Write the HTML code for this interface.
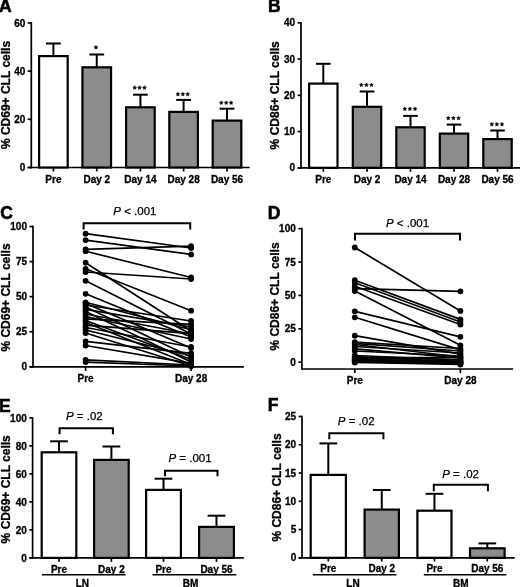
<!DOCTYPE html>
<html><head><meta charset="utf-8"><style>
html,body{margin:0;padding:0;background:#fff;}
body{width:520px;height:587px;overflow:hidden;}
svg{display:block;font-family:"Liberation Sans", sans-serif;filter:grayscale(1) blur(0.3px);}
</style></head><body>
<svg width="520" height="587" viewBox="0 0 520 587" font-family='"Liberation Sans", sans-serif'>
<rect width="520" height="587" fill="#fff"/>
<text x="-0.9" y="12.2" font-size="17.5" text-anchor="start" font-weight="bold" font-style="normal" stroke="#000" stroke-width="0.6">A</text>
<line x1="31.3" y1="22.049999999999997" x2="31.3" y2="168.35" stroke="#000" stroke-width="1.7"/>
<line x1="27.7" y1="167.5" x2="31.3" y2="167.5" stroke="#000" stroke-width="1.7"/>
<text x="25.3" y="171.1" font-size="10" text-anchor="end" font-weight="bold" font-style="normal" stroke="#000" stroke-width="0.3">0</text>
<line x1="27.7" y1="119.3" x2="31.3" y2="119.3" stroke="#000" stroke-width="1.7"/>
<text x="25.3" y="122.89999999999999" font-size="10" text-anchor="end" font-weight="bold" font-style="normal" stroke="#000" stroke-width="0.3">20</text>
<line x1="27.7" y1="71.1" x2="31.3" y2="71.1" stroke="#000" stroke-width="1.7"/>
<text x="25.3" y="74.69999999999999" font-size="10" text-anchor="end" font-weight="bold" font-style="normal" stroke="#000" stroke-width="0.3">40</text>
<line x1="27.7" y1="22.900000000000006" x2="31.3" y2="22.900000000000006" stroke="#000" stroke-width="1.7"/>
<text x="25.3" y="26.500000000000007" font-size="10" text-anchor="end" font-weight="bold" font-style="normal" stroke="#000" stroke-width="0.3">60</text>
<line x1="27.7" y1="167.5" x2="249.6" y2="167.5" stroke="#000" stroke-width="1.7"/>
<text x="0" y="0" font-size="12" text-anchor="middle" font-weight="bold" stroke="#000" stroke-width="0.3" transform="translate(9.8,95.0) rotate(-90)">% CD69+ CLL cells</text>
<line x1="53.4" y1="56.0" x2="53.4" y2="43.5" stroke="#000" stroke-width="2.0"/>
<line x1="46.0" y1="43.5" x2="60.8" y2="43.5" stroke="#000" stroke-width="2.0"/>
<rect x="39.1" y="56.1" width="28.599999999999998" height="111.4" fill="#fff" stroke="#000" stroke-width="2.2"/>
<line x1="53.4" y1="167.5" x2="53.4" y2="171.5" stroke="#000" stroke-width="1.7"/>
<text x="53.4" y="182.7" font-size="10" text-anchor="middle" font-weight="bold" font-style="normal" stroke="#000" stroke-width="0.3">Pre</text>
<line x1="96.75" y1="67.2" x2="96.75" y2="54.5" stroke="#000" stroke-width="2.0"/>
<line x1="89.35" y1="54.5" x2="104.15" y2="54.5" stroke="#000" stroke-width="2.0"/>
<rect x="82.44999999999999" y="67.3" width="28.600000000000012" height="100.2" fill="#8c8c8c" stroke="#000" stroke-width="2.2"/>
<line x1="96.75" y1="167.5" x2="96.75" y2="171.5" stroke="#000" stroke-width="1.7"/>
<text x="96.75" y="182.7" font-size="10" text-anchor="middle" font-weight="bold" font-style="normal" stroke="#000" stroke-width="0.3">Day 2</text>
<polygon points="95.95,45.40 96.57,46.55 97.85,46.78 96.95,47.72 97.13,49.02 95.95,48.45 94.77,49.02 94.95,47.72 94.05,46.78 95.33,46.55" stroke="#000" stroke-width="0.5" stroke-linejoin="round"/>
<line x1="140.4" y1="107.2" x2="140.4" y2="94.7" stroke="#000" stroke-width="2.0"/>
<line x1="133.0" y1="94.7" x2="147.8" y2="94.7" stroke="#000" stroke-width="2.0"/>
<rect x="126.1" y="107.3" width="28.600000000000012" height="60.199999999999996" fill="#8c8c8c" stroke="#000" stroke-width="2.2"/>
<line x1="140.4" y1="167.5" x2="140.4" y2="171.5" stroke="#000" stroke-width="1.7"/>
<text x="140.4" y="182.7" font-size="10" text-anchor="middle" font-weight="bold" font-style="normal" stroke="#000" stroke-width="0.3">Day 14</text>
<polygon points="134.70,85.70 135.32,86.85 136.60,87.08 135.70,88.02 135.88,89.32 134.70,88.75 133.52,89.32 133.70,88.02 132.80,87.08 134.08,86.85" stroke="#000" stroke-width="0.5" stroke-linejoin="round"/>
<polygon points="139.60,85.70 140.22,86.85 141.50,87.08 140.60,88.02 140.78,89.32 139.60,88.75 138.42,89.32 138.60,88.02 137.70,87.08 138.98,86.85" stroke="#000" stroke-width="0.5" stroke-linejoin="round"/>
<polygon points="144.50,85.70 145.12,86.85 146.40,87.08 145.50,88.02 145.68,89.32 144.50,88.75 143.32,89.32 143.50,88.02 142.60,87.08 143.88,86.85" stroke="#000" stroke-width="0.5" stroke-linejoin="round"/>
<line x1="183.6" y1="111.8" x2="183.6" y2="99.9" stroke="#000" stroke-width="2.0"/>
<line x1="176.2" y1="99.9" x2="191.0" y2="99.9" stroke="#000" stroke-width="2.0"/>
<rect x="169.29999999999998" y="111.89999999999999" width="28.600000000000012" height="55.6" fill="#8c8c8c" stroke="#000" stroke-width="2.2"/>
<line x1="183.6" y1="167.5" x2="183.6" y2="171.5" stroke="#000" stroke-width="1.7"/>
<text x="183.6" y="182.7" font-size="10" text-anchor="middle" font-weight="bold" font-style="normal" stroke="#000" stroke-width="0.3">Day 28</text>
<polygon points="177.90,92.20 178.52,93.35 179.80,93.58 178.90,94.52 179.08,95.82 177.90,95.25 176.72,95.82 176.90,94.52 176.00,93.58 177.28,93.35" stroke="#000" stroke-width="0.5" stroke-linejoin="round"/>
<polygon points="182.80,92.20 183.42,93.35 184.70,93.58 183.80,94.52 183.98,95.82 182.80,95.25 181.62,95.82 181.80,94.52 180.90,93.58 182.18,93.35" stroke="#000" stroke-width="0.5" stroke-linejoin="round"/>
<polygon points="187.70,92.20 188.32,93.35 189.60,93.58 188.70,94.52 188.88,95.82 187.70,95.25 186.52,95.82 186.70,94.52 185.80,93.58 187.08,93.35" stroke="#000" stroke-width="0.5" stroke-linejoin="round"/>
<line x1="227.0" y1="120.5" x2="227.0" y2="108.7" stroke="#000" stroke-width="2.0"/>
<line x1="219.6" y1="108.7" x2="234.4" y2="108.7" stroke="#000" stroke-width="2.0"/>
<rect x="212.7" y="120.6" width="28.600000000000012" height="46.9" fill="#8c8c8c" stroke="#000" stroke-width="2.2"/>
<line x1="227.0" y1="167.5" x2="227.0" y2="171.5" stroke="#000" stroke-width="1.7"/>
<text x="227.0" y="182.7" font-size="10" text-anchor="middle" font-weight="bold" font-style="normal" stroke="#000" stroke-width="0.3">Day 56</text>
<polygon points="221.30,100.80 221.92,101.95 223.20,102.18 222.30,103.12 222.48,104.42 221.30,103.85 220.12,104.42 220.30,103.12 219.40,102.18 220.68,101.95" stroke="#000" stroke-width="0.5" stroke-linejoin="round"/>
<polygon points="226.20,100.80 226.82,101.95 228.10,102.18 227.20,103.12 227.38,104.42 226.20,103.85 225.02,104.42 225.20,103.12 224.30,102.18 225.58,101.95" stroke="#000" stroke-width="0.5" stroke-linejoin="round"/>
<polygon points="231.10,100.80 231.72,101.95 233.00,102.18 232.10,103.12 232.28,104.42 231.10,103.85 229.92,104.42 230.10,103.12 229.20,102.18 230.48,101.95" stroke="#000" stroke-width="0.5" stroke-linejoin="round"/>
<text x="268.0" y="12.4" font-size="17.5" text-anchor="start" font-weight="bold" font-style="normal" stroke="#000" stroke-width="0.6">B</text>
<line x1="301.0" y1="21.95" x2="301.0" y2="168.65" stroke="#000" stroke-width="1.7"/>
<line x1="297.6" y1="167.8" x2="301.0" y2="167.8" stroke="#000" stroke-width="1.7"/>
<text x="295.0" y="171.4" font-size="10" text-anchor="end" font-weight="bold" font-style="normal" stroke="#000" stroke-width="0.3">0</text>
<line x1="297.6" y1="131.55" x2="301.0" y2="131.55" stroke="#000" stroke-width="1.7"/>
<text x="295.0" y="135.15" font-size="10" text-anchor="end" font-weight="bold" font-style="normal" stroke="#000" stroke-width="0.3">10</text>
<line x1="297.6" y1="95.30000000000001" x2="301.0" y2="95.30000000000001" stroke="#000" stroke-width="1.7"/>
<text x="295.0" y="98.9" font-size="10" text-anchor="end" font-weight="bold" font-style="normal" stroke="#000" stroke-width="0.3">20</text>
<line x1="297.6" y1="59.05000000000001" x2="301.0" y2="59.05000000000001" stroke="#000" stroke-width="1.7"/>
<text x="295.0" y="62.65000000000001" font-size="10" text-anchor="end" font-weight="bold" font-style="normal" stroke="#000" stroke-width="0.3">30</text>
<line x1="297.6" y1="22.80000000000001" x2="301.0" y2="22.80000000000001" stroke="#000" stroke-width="1.7"/>
<text x="295.0" y="26.400000000000013" font-size="10" text-anchor="end" font-weight="bold" font-style="normal" stroke="#000" stroke-width="0.3">40</text>
<line x1="297.6" y1="167.8" x2="520.5" y2="167.8" stroke="#000" stroke-width="1.7"/>
<text x="0" y="0" font-size="12" text-anchor="middle" font-weight="bold" stroke="#000" stroke-width="0.3" transform="translate(278.8,95.3) rotate(-90)">% CD86+ CLL cells</text>
<line x1="323.3" y1="83.5" x2="323.3" y2="63.8" stroke="#000" stroke-width="2.0"/>
<line x1="316.0" y1="63.8" x2="330.6" y2="63.8" stroke="#000" stroke-width="2.0"/>
<rect x="309.1" y="83.6" width="28.400000000000023" height="84.20000000000002" fill="#fff" stroke="#000" stroke-width="2.2"/>
<line x1="323.3" y1="167.8" x2="323.3" y2="171.8" stroke="#000" stroke-width="1.7"/>
<text x="323.3" y="182.9" font-size="10" text-anchor="middle" font-weight="bold" font-style="normal" stroke="#000" stroke-width="0.3">Pre</text>
<line x1="367.0" y1="106.7" x2="367.0" y2="91.5" stroke="#000" stroke-width="2.0"/>
<line x1="359.7" y1="91.5" x2="374.3" y2="91.5" stroke="#000" stroke-width="2.0"/>
<rect x="352.8" y="106.8" width="28.400000000000023" height="61.00000000000001" fill="#8c8c8c" stroke="#000" stroke-width="2.2"/>
<line x1="367.0" y1="167.8" x2="367.0" y2="171.8" stroke="#000" stroke-width="1.7"/>
<text x="367.0" y="182.9" font-size="10" text-anchor="middle" font-weight="bold" font-style="normal" stroke="#000" stroke-width="0.3">Day 2</text>
<polygon points="361.30,83.00 361.92,84.15 363.20,84.38 362.30,85.32 362.48,86.62 361.30,86.05 360.12,86.62 360.30,85.32 359.40,84.38 360.68,84.15" stroke="#000" stroke-width="0.5" stroke-linejoin="round"/>
<polygon points="366.40,83.00 367.02,84.15 368.30,84.38 367.40,85.32 367.58,86.62 366.40,86.05 365.22,86.62 365.40,85.32 364.50,84.38 365.78,84.15" stroke="#000" stroke-width="0.5" stroke-linejoin="round"/>
<polygon points="371.50,83.00 372.12,84.15 373.40,84.38 372.50,85.32 372.68,86.62 371.50,86.05 370.32,86.62 370.50,85.32 369.60,84.38 370.88,84.15" stroke="#000" stroke-width="0.5" stroke-linejoin="round"/>
<line x1="410.5" y1="127.2" x2="410.5" y2="115.9" stroke="#000" stroke-width="2.0"/>
<line x1="403.2" y1="115.9" x2="417.8" y2="115.9" stroke="#000" stroke-width="2.0"/>
<rect x="396.3" y="127.3" width="28.400000000000023" height="40.50000000000001" fill="#8c8c8c" stroke="#000" stroke-width="2.2"/>
<line x1="410.5" y1="167.8" x2="410.5" y2="171.8" stroke="#000" stroke-width="1.7"/>
<text x="410.5" y="182.9" font-size="10" text-anchor="middle" font-weight="bold" font-style="normal" stroke="#000" stroke-width="0.3">Day 14</text>
<polygon points="404.80,106.90 405.42,108.05 406.70,108.28 405.80,109.22 405.98,110.52 404.80,109.95 403.62,110.52 403.80,109.22 402.90,108.28 404.18,108.05" stroke="#000" stroke-width="0.5" stroke-linejoin="round"/>
<polygon points="409.90,106.90 410.52,108.05 411.80,108.28 410.90,109.22 411.08,110.52 409.90,109.95 408.72,110.52 408.90,109.22 408.00,108.28 409.28,108.05" stroke="#000" stroke-width="0.5" stroke-linejoin="round"/>
<polygon points="415.00,106.90 415.62,108.05 416.90,108.28 416.00,109.22 416.18,110.52 415.00,109.95 413.82,110.52 414.00,109.22 413.10,108.28 414.38,108.05" stroke="#000" stroke-width="0.5" stroke-linejoin="round"/>
<line x1="454.0" y1="133.5" x2="454.0" y2="124.6" stroke="#000" stroke-width="2.0"/>
<line x1="446.7" y1="124.6" x2="461.3" y2="124.6" stroke="#000" stroke-width="2.0"/>
<rect x="439.8" y="133.6" width="28.400000000000023" height="34.20000000000001" fill="#8c8c8c" stroke="#000" stroke-width="2.2"/>
<line x1="454.0" y1="167.8" x2="454.0" y2="171.8" stroke="#000" stroke-width="1.7"/>
<text x="454.0" y="182.9" font-size="10" text-anchor="middle" font-weight="bold" font-style="normal" stroke="#000" stroke-width="0.3">Day 28</text>
<polygon points="448.30,116.20 448.92,117.35 450.20,117.58 449.30,118.52 449.48,119.82 448.30,119.25 447.12,119.82 447.30,118.52 446.40,117.58 447.68,117.35" stroke="#000" stroke-width="0.5" stroke-linejoin="round"/>
<polygon points="453.40,116.20 454.02,117.35 455.30,117.58 454.40,118.52 454.58,119.82 453.40,119.25 452.22,119.82 452.40,118.52 451.50,117.58 452.78,117.35" stroke="#000" stroke-width="0.5" stroke-linejoin="round"/>
<polygon points="458.50,116.20 459.12,117.35 460.40,117.58 459.50,118.52 459.68,119.82 458.50,119.25 457.32,119.82 457.50,118.52 456.60,117.58 457.88,117.35" stroke="#000" stroke-width="0.5" stroke-linejoin="round"/>
<line x1="497.5" y1="139.0" x2="497.5" y2="130.5" stroke="#000" stroke-width="2.0"/>
<line x1="490.2" y1="130.5" x2="504.8" y2="130.5" stroke="#000" stroke-width="2.0"/>
<rect x="483.3" y="139.1" width="28.399999999999967" height="28.70000000000001" fill="#8c8c8c" stroke="#000" stroke-width="2.2"/>
<line x1="497.5" y1="167.8" x2="497.5" y2="171.8" stroke="#000" stroke-width="1.7"/>
<text x="497.5" y="182.9" font-size="10" text-anchor="middle" font-weight="bold" font-style="normal" stroke="#000" stroke-width="0.3">Day 56</text>
<polygon points="491.80,122.30 492.42,123.45 493.70,123.68 492.80,124.62 492.98,125.92 491.80,125.35 490.62,125.92 490.80,124.62 489.90,123.68 491.18,123.45" stroke="#000" stroke-width="0.5" stroke-linejoin="round"/>
<polygon points="496.90,122.30 497.52,123.45 498.80,123.68 497.90,124.62 498.08,125.92 496.90,125.35 495.72,125.92 495.90,124.62 495.00,123.68 496.28,123.45" stroke="#000" stroke-width="0.5" stroke-linejoin="round"/>
<polygon points="502.00,122.30 502.62,123.45 503.90,123.68 503.00,124.62 503.18,125.92 502.00,125.35 500.82,125.92 501.00,124.62 500.10,123.68 501.38,123.45" stroke="#000" stroke-width="0.5" stroke-linejoin="round"/>
<text x="0.2" y="219.1" font-size="17.5" text-anchor="start" font-weight="bold" font-style="normal" stroke="#000" stroke-width="0.6">C</text>
<line x1="33.0" y1="225.65" x2="33.0" y2="367.65000000000003" stroke="#000" stroke-width="1.7"/>
<line x1="29.5" y1="366.8" x2="33.0" y2="366.8" stroke="#000" stroke-width="1.7"/>
<text x="27.0" y="370.40000000000003" font-size="10" text-anchor="end" font-weight="bold" font-style="normal" stroke="#000" stroke-width="0.3">0</text>
<line x1="29.5" y1="331.725" x2="33.0" y2="331.725" stroke="#000" stroke-width="1.7"/>
<text x="27.0" y="335.32500000000005" font-size="10" text-anchor="end" font-weight="bold" font-style="normal" stroke="#000" stroke-width="0.3">25</text>
<line x1="29.5" y1="296.65" x2="33.0" y2="296.65" stroke="#000" stroke-width="1.7"/>
<text x="27.0" y="300.25" font-size="10" text-anchor="end" font-weight="bold" font-style="normal" stroke="#000" stroke-width="0.3">50</text>
<line x1="29.5" y1="261.57500000000005" x2="33.0" y2="261.57500000000005" stroke="#000" stroke-width="1.7"/>
<text x="27.0" y="265.17500000000007" font-size="10" text-anchor="end" font-weight="bold" font-style="normal" stroke="#000" stroke-width="0.3">75</text>
<line x1="29.5" y1="226.5" x2="33.0" y2="226.5" stroke="#000" stroke-width="1.7"/>
<text x="27.0" y="230.1" font-size="10" text-anchor="end" font-weight="bold" font-style="normal" stroke="#000" stroke-width="0.3">100</text>
<line x1="29.5" y1="366.8" x2="243.8" y2="366.8" stroke="#000" stroke-width="1.7"/>
<text x="0" y="0" font-size="12" text-anchor="middle" font-weight="bold" stroke="#000" stroke-width="0.3" transform="translate(9.8,297.5) rotate(-90)">% CD69+ CLL cells</text>
<line x1="85.6" y1="366.8" x2="85.6" y2="371.0" stroke="#000" stroke-width="1.7"/>
<line x1="191.1" y1="366.8" x2="191.1" y2="371.0" stroke="#000" stroke-width="1.7"/>
<text x="85.6" y="382.3" font-size="10" text-anchor="middle" font-weight="bold" font-style="normal" stroke="#000" stroke-width="0.3">Pre</text>
<text x="191.1" y="382.3" font-size="10" text-anchor="middle" font-weight="bold" font-style="normal" stroke="#000" stroke-width="0.3">Day 28</text>
<path d="M83.6 229.6 V223.2 H190.2 V229.6" fill="none" stroke="#000" stroke-width="2.0"/>
<text x="113.3" y="215.0" font-size="11.5" font-weight="normal" stroke="#000" stroke-width="0.25"><tspan font-style="italic">P</tspan> &lt; .001</text>
<line x1="85.6" y1="233.7" x2="191.1" y2="248.0" stroke="#000" stroke-width="1.7"/>
<line x1="85.6" y1="240.1" x2="191.1" y2="254.4" stroke="#000" stroke-width="1.7"/>
<line x1="85.6" y1="249.3" x2="191.1" y2="246.2" stroke="#000" stroke-width="1.7"/>
<line x1="85.6" y1="251.2" x2="191.1" y2="277.5" stroke="#000" stroke-width="1.7"/>
<line x1="85.6" y1="262.7" x2="191.1" y2="331.0" stroke="#000" stroke-width="1.7"/>
<line x1="85.6" y1="268.8" x2="191.1" y2="310.7" stroke="#000" stroke-width="1.7"/>
<line x1="85.6" y1="272.0" x2="191.1" y2="279.0" stroke="#000" stroke-width="1.7"/>
<line x1="85.6" y1="280.8" x2="191.1" y2="334.0" stroke="#000" stroke-width="1.7"/>
<line x1="85.6" y1="293.8" x2="191.1" y2="337.0" stroke="#000" stroke-width="1.7"/>
<line x1="85.6" y1="302.3" x2="191.1" y2="329.8" stroke="#000" stroke-width="1.7"/>
<line x1="85.6" y1="303.5" x2="191.1" y2="348.0" stroke="#000" stroke-width="1.7"/>
<line x1="85.6" y1="305.0" x2="191.1" y2="321.0" stroke="#000" stroke-width="1.7"/>
<line x1="85.6" y1="307.0" x2="191.1" y2="357.0" stroke="#000" stroke-width="1.7"/>
<line x1="85.6" y1="309.3" x2="191.1" y2="327.0" stroke="#000" stroke-width="1.7"/>
<line x1="85.6" y1="311.5" x2="191.1" y2="362.0" stroke="#000" stroke-width="1.7"/>
<line x1="85.6" y1="314.0" x2="191.1" y2="334.0" stroke="#000" stroke-width="1.7"/>
<line x1="85.6" y1="316.5" x2="191.1" y2="339.0" stroke="#000" stroke-width="1.7"/>
<line x1="85.6" y1="318.8" x2="191.1" y2="324.3" stroke="#000" stroke-width="1.7"/>
<line x1="85.6" y1="320.5" x2="191.1" y2="359.5" stroke="#000" stroke-width="1.7"/>
<line x1="85.6" y1="322.5" x2="191.1" y2="364.5" stroke="#000" stroke-width="1.7"/>
<line x1="85.6" y1="325.2" x2="191.1" y2="333.6" stroke="#000" stroke-width="1.7"/>
<line x1="85.6" y1="327.5" x2="191.1" y2="347.0" stroke="#000" stroke-width="1.7"/>
<line x1="85.6" y1="330.0" x2="191.1" y2="356.0" stroke="#000" stroke-width="1.7"/>
<line x1="85.6" y1="333.0" x2="191.1" y2="366.0" stroke="#000" stroke-width="1.7"/>
<line x1="85.6" y1="341.3" x2="191.1" y2="353.4" stroke="#000" stroke-width="1.7"/>
<line x1="85.6" y1="345.5" x2="191.1" y2="363.4" stroke="#000" stroke-width="1.7"/>
<line x1="85.6" y1="359.8" x2="191.1" y2="365.0" stroke="#000" stroke-width="1.7"/>
<line x1="85.6" y1="362.1" x2="191.1" y2="366.0" stroke="#000" stroke-width="1.7"/>
<circle cx="85.6" cy="233.7" r="2.9"/>
<circle cx="191.1" cy="248.0" r="2.9"/>
<circle cx="85.6" cy="240.1" r="2.9"/>
<circle cx="191.1" cy="254.4" r="2.9"/>
<circle cx="85.6" cy="249.3" r="2.9"/>
<circle cx="191.1" cy="246.2" r="2.9"/>
<circle cx="85.6" cy="251.2" r="2.9"/>
<circle cx="191.1" cy="277.5" r="2.9"/>
<circle cx="85.6" cy="262.7" r="2.9"/>
<circle cx="191.1" cy="331.0" r="2.9"/>
<circle cx="85.6" cy="268.8" r="2.9"/>
<circle cx="191.1" cy="310.7" r="2.9"/>
<circle cx="85.6" cy="272.0" r="2.9"/>
<circle cx="191.1" cy="279.0" r="2.9"/>
<circle cx="85.6" cy="280.8" r="2.9"/>
<circle cx="191.1" cy="334.0" r="2.9"/>
<circle cx="85.6" cy="293.8" r="2.9"/>
<circle cx="191.1" cy="337.0" r="2.9"/>
<circle cx="85.6" cy="302.3" r="2.9"/>
<circle cx="191.1" cy="329.8" r="2.9"/>
<circle cx="85.6" cy="303.5" r="2.9"/>
<circle cx="191.1" cy="348.0" r="2.9"/>
<circle cx="85.6" cy="305.0" r="2.9"/>
<circle cx="191.1" cy="321.0" r="2.9"/>
<circle cx="85.6" cy="307.0" r="2.9"/>
<circle cx="191.1" cy="357.0" r="2.9"/>
<circle cx="85.6" cy="309.3" r="2.9"/>
<circle cx="191.1" cy="327.0" r="2.9"/>
<circle cx="85.6" cy="311.5" r="2.9"/>
<circle cx="191.1" cy="362.0" r="2.9"/>
<circle cx="85.6" cy="314.0" r="2.9"/>
<circle cx="191.1" cy="334.0" r="2.9"/>
<circle cx="85.6" cy="316.5" r="2.9"/>
<circle cx="191.1" cy="339.0" r="2.9"/>
<circle cx="85.6" cy="318.8" r="2.9"/>
<circle cx="191.1" cy="324.3" r="2.9"/>
<circle cx="85.6" cy="320.5" r="2.9"/>
<circle cx="191.1" cy="359.5" r="2.9"/>
<circle cx="85.6" cy="322.5" r="2.9"/>
<circle cx="191.1" cy="364.5" r="2.9"/>
<circle cx="85.6" cy="325.2" r="2.9"/>
<circle cx="191.1" cy="333.6" r="2.9"/>
<circle cx="85.6" cy="327.5" r="2.9"/>
<circle cx="191.1" cy="347.0" r="2.9"/>
<circle cx="85.6" cy="330.0" r="2.9"/>
<circle cx="191.1" cy="356.0" r="2.9"/>
<circle cx="85.6" cy="333.0" r="2.9"/>
<circle cx="191.1" cy="366.0" r="2.9"/>
<circle cx="85.6" cy="341.3" r="2.9"/>
<circle cx="191.1" cy="353.4" r="2.9"/>
<circle cx="85.6" cy="345.5" r="2.9"/>
<circle cx="191.1" cy="363.4" r="2.9"/>
<circle cx="85.6" cy="359.8" r="2.9"/>
<circle cx="191.1" cy="365.0" r="2.9"/>
<circle cx="85.6" cy="362.1" r="2.9"/>
<circle cx="191.1" cy="366.0" r="2.9"/>
<text x="267.7" y="218.6" font-size="17.5" text-anchor="start" font-weight="bold" font-style="normal" stroke="#000" stroke-width="0.6">D</text>
<line x1="301.9" y1="227.85" x2="301.9" y2="369.65000000000003" stroke="#000" stroke-width="1.7"/>
<line x1="298.4" y1="362.2" x2="301.9" y2="362.2" stroke="#000" stroke-width="1.7"/>
<text x="295.8" y="365.8" font-size="10" text-anchor="end" font-weight="bold" font-style="normal" stroke="#000" stroke-width="0.3">0</text>
<line x1="298.4" y1="328.825" x2="301.9" y2="328.825" stroke="#000" stroke-width="1.7"/>
<text x="295.8" y="332.425" font-size="10" text-anchor="end" font-weight="bold" font-style="normal" stroke="#000" stroke-width="0.3">25</text>
<line x1="298.4" y1="295.45" x2="301.9" y2="295.45" stroke="#000" stroke-width="1.7"/>
<text x="295.8" y="299.05" font-size="10" text-anchor="end" font-weight="bold" font-style="normal" stroke="#000" stroke-width="0.3">50</text>
<line x1="298.4" y1="262.075" x2="301.9" y2="262.075" stroke="#000" stroke-width="1.7"/>
<text x="295.8" y="265.675" font-size="10" text-anchor="end" font-weight="bold" font-style="normal" stroke="#000" stroke-width="0.3">75</text>
<line x1="298.4" y1="228.7" x2="301.9" y2="228.7" stroke="#000" stroke-width="1.7"/>
<text x="295.8" y="232.29999999999998" font-size="10" text-anchor="end" font-weight="bold" font-style="normal" stroke="#000" stroke-width="0.3">100</text>
<line x1="301.9" y1="369.0" x2="513.1" y2="369.0" stroke="#000" stroke-width="1.7"/>
<text x="0" y="0" font-size="12" text-anchor="middle" font-weight="bold" stroke="#000" stroke-width="0.3" transform="translate(279.2,296.5) rotate(-90)">% CD86+ CLL cells</text>
<line x1="354.8" y1="368.8" x2="354.8" y2="373.0" stroke="#000" stroke-width="1.7"/>
<line x1="460.4" y1="368.8" x2="460.4" y2="373.0" stroke="#000" stroke-width="1.7"/>
<text x="354.8" y="384.3" font-size="10" text-anchor="middle" font-weight="bold" font-style="normal" stroke="#000" stroke-width="0.3">Pre</text>
<text x="460.4" y="384.3" font-size="10" text-anchor="middle" font-weight="bold" font-style="normal" stroke="#000" stroke-width="0.3">Day 28</text>
<path d="M355.0 240.5 V233.7 H460.0 V240.5" fill="none" stroke="#000" stroke-width="2.0"/>
<text x="386.0" y="226.8" font-size="11.5" font-weight="normal" stroke="#000" stroke-width="0.25"><tspan font-style="italic">P</tspan> &lt; .001</text>
<line x1="354.8" y1="247.5" x2="460.4" y2="310.9" stroke="#000" stroke-width="1.7"/>
<line x1="354.8" y1="280.2" x2="460.4" y2="319.4" stroke="#000" stroke-width="1.7"/>
<line x1="354.8" y1="282.8" x2="460.4" y2="322.0" stroke="#000" stroke-width="1.7"/>
<line x1="354.8" y1="286.2" x2="460.4" y2="324.5" stroke="#000" stroke-width="1.7"/>
<line x1="354.8" y1="288.6" x2="460.4" y2="291.3" stroke="#000" stroke-width="1.7"/>
<line x1="354.8" y1="291.0" x2="460.4" y2="345.3" stroke="#000" stroke-width="1.7"/>
<line x1="354.8" y1="311.3" x2="460.4" y2="336.8" stroke="#000" stroke-width="1.7"/>
<line x1="354.8" y1="317.3" x2="460.4" y2="349.9" stroke="#000" stroke-width="1.7"/>
<line x1="354.8" y1="335.7" x2="460.4" y2="354.2" stroke="#000" stroke-width="1.7"/>
<line x1="354.8" y1="342.2" x2="460.4" y2="348.5" stroke="#000" stroke-width="1.7"/>
<line x1="354.8" y1="344.5" x2="460.4" y2="357.0" stroke="#000" stroke-width="1.7"/>
<line x1="354.8" y1="348.8" x2="460.4" y2="358.0" stroke="#000" stroke-width="1.7"/>
<line x1="354.8" y1="351.0" x2="460.4" y2="356.0" stroke="#000" stroke-width="1.7"/>
<line x1="354.8" y1="355.5" x2="460.4" y2="360.0" stroke="#000" stroke-width="1.7"/>
<line x1="354.8" y1="356.5" x2="460.4" y2="362.0" stroke="#000" stroke-width="1.7"/>
<line x1="354.8" y1="357.5" x2="460.4" y2="357.5" stroke="#000" stroke-width="1.7"/>
<line x1="354.8" y1="358.5" x2="460.4" y2="363.0" stroke="#000" stroke-width="1.7"/>
<line x1="354.8" y1="359.5" x2="460.4" y2="361.0" stroke="#000" stroke-width="1.7"/>
<line x1="354.8" y1="360.5" x2="460.4" y2="363.5" stroke="#000" stroke-width="1.7"/>
<line x1="354.8" y1="361.0" x2="460.4" y2="362.5" stroke="#000" stroke-width="1.7"/>
<line x1="354.8" y1="361.5" x2="460.4" y2="364.0" stroke="#000" stroke-width="1.7"/>
<line x1="354.8" y1="362.0" x2="460.4" y2="363.0" stroke="#000" stroke-width="1.7"/>
<line x1="354.8" y1="362.5" x2="460.4" y2="364.5" stroke="#000" stroke-width="1.7"/>
<line x1="354.8" y1="358.0" x2="460.4" y2="359.5" stroke="#000" stroke-width="1.7"/>
<line x1="354.8" y1="360.0" x2="460.4" y2="361.5" stroke="#000" stroke-width="1.7"/>
<line x1="354.8" y1="343.3" x2="460.4" y2="351.0" stroke="#000" stroke-width="1.7"/>
<line x1="354.8" y1="346.5" x2="460.4" y2="353.0" stroke="#000" stroke-width="1.7"/>
<circle cx="354.8" cy="247.5" r="2.9"/>
<circle cx="460.4" cy="310.9" r="2.9"/>
<circle cx="354.8" cy="280.2" r="2.9"/>
<circle cx="460.4" cy="319.4" r="2.9"/>
<circle cx="354.8" cy="282.8" r="2.9"/>
<circle cx="460.4" cy="322.0" r="2.9"/>
<circle cx="354.8" cy="286.2" r="2.9"/>
<circle cx="460.4" cy="324.5" r="2.9"/>
<circle cx="354.8" cy="288.6" r="2.9"/>
<circle cx="460.4" cy="291.3" r="2.9"/>
<circle cx="354.8" cy="291.0" r="2.9"/>
<circle cx="460.4" cy="345.3" r="2.9"/>
<circle cx="354.8" cy="311.3" r="2.9"/>
<circle cx="460.4" cy="336.8" r="2.9"/>
<circle cx="354.8" cy="317.3" r="2.9"/>
<circle cx="460.4" cy="349.9" r="2.9"/>
<circle cx="354.8" cy="335.7" r="2.9"/>
<circle cx="460.4" cy="354.2" r="2.9"/>
<circle cx="354.8" cy="342.2" r="2.9"/>
<circle cx="460.4" cy="348.5" r="2.9"/>
<circle cx="354.8" cy="344.5" r="2.9"/>
<circle cx="460.4" cy="357.0" r="2.9"/>
<circle cx="354.8" cy="348.8" r="2.9"/>
<circle cx="460.4" cy="358.0" r="2.9"/>
<circle cx="354.8" cy="351.0" r="2.9"/>
<circle cx="460.4" cy="356.0" r="2.9"/>
<circle cx="354.8" cy="355.5" r="2.9"/>
<circle cx="460.4" cy="360.0" r="2.9"/>
<circle cx="354.8" cy="356.5" r="2.9"/>
<circle cx="460.4" cy="362.0" r="2.9"/>
<circle cx="354.8" cy="357.5" r="2.9"/>
<circle cx="460.4" cy="357.5" r="2.9"/>
<circle cx="354.8" cy="358.5" r="2.9"/>
<circle cx="460.4" cy="363.0" r="2.9"/>
<circle cx="354.8" cy="359.5" r="2.9"/>
<circle cx="460.4" cy="361.0" r="2.9"/>
<circle cx="354.8" cy="360.5" r="2.9"/>
<circle cx="460.4" cy="363.5" r="2.9"/>
<circle cx="354.8" cy="361.0" r="2.9"/>
<circle cx="460.4" cy="362.5" r="2.9"/>
<circle cx="354.8" cy="361.5" r="2.9"/>
<circle cx="460.4" cy="364.0" r="2.9"/>
<circle cx="354.8" cy="362.0" r="2.9"/>
<circle cx="460.4" cy="363.0" r="2.9"/>
<circle cx="354.8" cy="362.5" r="2.9"/>
<circle cx="460.4" cy="364.5" r="2.9"/>
<circle cx="354.8" cy="358.0" r="2.9"/>
<circle cx="460.4" cy="359.5" r="2.9"/>
<circle cx="354.8" cy="360.0" r="2.9"/>
<circle cx="460.4" cy="361.5" r="2.9"/>
<circle cx="354.8" cy="343.3" r="2.9"/>
<circle cx="460.4" cy="351.0" r="2.9"/>
<circle cx="354.8" cy="346.5" r="2.9"/>
<circle cx="460.4" cy="353.0" r="2.9"/>
<text x="-1.1" y="411.5" font-size="17.5" text-anchor="start" font-weight="bold" font-style="normal" stroke="#000" stroke-width="0.6">E</text>
<line x1="32.6" y1="417.04999999999995" x2="32.6" y2="558.75" stroke="#000" stroke-width="1.7"/>
<line x1="29.3" y1="557.9" x2="32.6" y2="557.9" stroke="#000" stroke-width="1.7"/>
<text x="26.8" y="561.5" font-size="10" text-anchor="end" font-weight="bold" font-style="normal" stroke="#000" stroke-width="0.3">0</text>
<line x1="29.3" y1="529.9" x2="32.6" y2="529.9" stroke="#000" stroke-width="1.7"/>
<text x="26.8" y="533.5" font-size="10" text-anchor="end" font-weight="bold" font-style="normal" stroke="#000" stroke-width="0.3">20</text>
<line x1="29.3" y1="501.9" x2="32.6" y2="501.9" stroke="#000" stroke-width="1.7"/>
<text x="26.8" y="505.5" font-size="10" text-anchor="end" font-weight="bold" font-style="normal" stroke="#000" stroke-width="0.3">40</text>
<line x1="29.3" y1="473.9" x2="32.6" y2="473.9" stroke="#000" stroke-width="1.7"/>
<text x="26.8" y="477.5" font-size="10" text-anchor="end" font-weight="bold" font-style="normal" stroke="#000" stroke-width="0.3">60</text>
<line x1="29.3" y1="445.9" x2="32.6" y2="445.9" stroke="#000" stroke-width="1.7"/>
<text x="26.8" y="449.5" font-size="10" text-anchor="end" font-weight="bold" font-style="normal" stroke="#000" stroke-width="0.3">80</text>
<line x1="29.3" y1="417.9" x2="32.6" y2="417.9" stroke="#000" stroke-width="1.7"/>
<text x="26.8" y="421.5" font-size="10" text-anchor="end" font-weight="bold" font-style="normal" stroke="#000" stroke-width="0.3">100</text>
<line x1="29.3" y1="557.9" x2="243.8" y2="557.9" stroke="#000" stroke-width="1.7"/>
<text x="0" y="0" font-size="12" text-anchor="middle" font-weight="bold" stroke="#000" stroke-width="0.3" transform="translate(9.8,489.3) rotate(-90)">% CD69+ CLL cells</text>
<line x1="59.0" y1="452.2" x2="59.0" y2="441.3" stroke="#000" stroke-width="2.0"/>
<line x1="50.15" y1="441.3" x2="67.85" y2="441.3" stroke="#000" stroke-width="2.0"/>
<rect x="41.7" y="452.3" width="34.6" height="105.6" fill="#fff" stroke="#000" stroke-width="2.2"/>
<line x1="59.0" y1="557.9" x2="59.0" y2="561.8" stroke="#000" stroke-width="1.7"/>
<text x="59.0" y="572.6" font-size="10" text-anchor="middle" font-weight="bold" font-style="normal" stroke="#000" stroke-width="0.3">Pre</text>
<line x1="111.4" y1="459.8" x2="111.4" y2="446.5" stroke="#000" stroke-width="2.0"/>
<line x1="102.55000000000001" y1="446.5" x2="120.25" y2="446.5" stroke="#000" stroke-width="2.0"/>
<rect x="94.1" y="459.90000000000003" width="34.60000000000001" height="97.99999999999997" fill="#8c8c8c" stroke="#000" stroke-width="2.2"/>
<line x1="111.4" y1="557.9" x2="111.4" y2="561.8" stroke="#000" stroke-width="1.7"/>
<text x="111.4" y="572.6" font-size="10" text-anchor="middle" font-weight="bold" font-style="normal" stroke="#000" stroke-width="0.3">Day 2</text>
<line x1="163.5" y1="489.8" x2="163.5" y2="478.7" stroke="#000" stroke-width="2.0"/>
<line x1="154.65" y1="478.7" x2="172.35" y2="478.7" stroke="#000" stroke-width="2.0"/>
<rect x="146.1" y="489.90000000000003" width="34.8" height="67.99999999999997" fill="#fff" stroke="#000" stroke-width="2.2"/>
<line x1="163.5" y1="557.9" x2="163.5" y2="561.8" stroke="#000" stroke-width="1.7"/>
<text x="163.5" y="572.6" font-size="10" text-anchor="middle" font-weight="bold" font-style="normal" stroke="#000" stroke-width="0.3">Pre</text>
<line x1="216.5" y1="526.8" x2="216.5" y2="515.7" stroke="#000" stroke-width="2.0"/>
<line x1="207.65" y1="515.7" x2="225.35" y2="515.7" stroke="#000" stroke-width="2.0"/>
<rect x="199.1" y="526.9" width="34.8" height="31.00000000000002" fill="#8c8c8c" stroke="#000" stroke-width="2.2"/>
<line x1="216.5" y1="557.9" x2="216.5" y2="561.8" stroke="#000" stroke-width="1.7"/>
<text x="216.5" y="572.6" font-size="10" text-anchor="middle" font-weight="bold" font-style="normal" stroke="#000" stroke-width="0.3">Day 56</text>
<line x1="41.9" y1="574.7" x2="125.6" y2="574.7" stroke="#000" stroke-width="1.5"/>
<line x1="152.5" y1="574.7" x2="236.3" y2="574.7" stroke="#000" stroke-width="1.5"/>
<text x="82.3" y="586.6" font-size="10" text-anchor="middle" font-weight="bold" font-style="normal" stroke="#000" stroke-width="0.3">LN</text>
<text x="190.6" y="586.6" font-size="10" text-anchor="middle" font-weight="bold" font-style="normal" stroke="#000" stroke-width="0.3">BM</text>
<path d="M59.6 434.2 V428.3 H112.9 V434.2" fill="none" stroke="#000" stroke-width="2.0"/>
<text x="66.0" y="420.3" font-size="11.5" font-weight="normal" stroke="#000" stroke-width="0.25"><tspan font-style="italic">P</tspan> = .02</text>
<path d="M165.0 476.3 V470.7 H217.5 V476.3" fill="none" stroke="#000" stroke-width="2.0"/>
<text x="168.5" y="462.0" font-size="11.5" font-weight="normal" stroke="#000" stroke-width="0.25"><tspan font-style="italic">P</tspan> = .001</text>
<text x="267.7" y="411.3" font-size="17.5" text-anchor="start" font-weight="bold" font-style="normal" stroke="#000" stroke-width="0.6">F</text>
<line x1="302.0" y1="415.65" x2="302.0" y2="558.65" stroke="#000" stroke-width="1.7"/>
<line x1="298.7" y1="557.8" x2="302.0" y2="557.8" stroke="#000" stroke-width="1.7"/>
<text x="296.2" y="561.4" font-size="10" text-anchor="end" font-weight="bold" font-style="normal" stroke="#000" stroke-width="0.3">0</text>
<line x1="298.7" y1="529.54" x2="302.0" y2="529.54" stroke="#000" stroke-width="1.7"/>
<text x="296.2" y="533.14" font-size="10" text-anchor="end" font-weight="bold" font-style="normal" stroke="#000" stroke-width="0.3">5</text>
<line x1="298.7" y1="501.28" x2="302.0" y2="501.28" stroke="#000" stroke-width="1.7"/>
<text x="296.2" y="504.88" font-size="10" text-anchor="end" font-weight="bold" font-style="normal" stroke="#000" stroke-width="0.3">10</text>
<line x1="298.7" y1="473.02" x2="302.0" y2="473.02" stroke="#000" stroke-width="1.7"/>
<text x="296.2" y="476.62" font-size="10" text-anchor="end" font-weight="bold" font-style="normal" stroke="#000" stroke-width="0.3">15</text>
<line x1="298.7" y1="444.76" x2="302.0" y2="444.76" stroke="#000" stroke-width="1.7"/>
<text x="296.2" y="448.36" font-size="10" text-anchor="end" font-weight="bold" font-style="normal" stroke="#000" stroke-width="0.3">20</text>
<line x1="298.7" y1="416.5" x2="302.0" y2="416.5" stroke="#000" stroke-width="1.7"/>
<text x="296.2" y="420.1" font-size="10" text-anchor="end" font-weight="bold" font-style="normal" stroke="#000" stroke-width="0.3">25</text>
<line x1="298.7" y1="557.8" x2="514.7" y2="557.8" stroke="#000" stroke-width="1.7"/>
<text x="0" y="0" font-size="12" text-anchor="middle" font-weight="bold" stroke="#000" stroke-width="0.3" transform="translate(280.5,487.5) rotate(-90)">% CD86+ CLL cells</text>
<line x1="328.3" y1="474.8" x2="328.3" y2="443.4" stroke="#000" stroke-width="2.0"/>
<line x1="319.45" y1="443.4" x2="337.15000000000003" y2="443.4" stroke="#000" stroke-width="2.0"/>
<rect x="310.70000000000005" y="474.90000000000003" width="35.199999999999974" height="82.89999999999995" fill="#fff" stroke="#000" stroke-width="2.2"/>
<line x1="328.3" y1="557.8" x2="328.3" y2="561.5" stroke="#000" stroke-width="1.7"/>
<text x="328.3" y="572.3" font-size="10" text-anchor="middle" font-weight="bold" font-style="normal" stroke="#000" stroke-width="0.3">Pre</text>
<line x1="381.75" y1="509.5" x2="381.75" y2="490.0" stroke="#000" stroke-width="2.0"/>
<line x1="372.9" y1="490.0" x2="390.6" y2="490.0" stroke="#000" stroke-width="2.0"/>
<rect x="364.6" y="509.6" width="34.3" height="48.19999999999995" fill="#8c8c8c" stroke="#000" stroke-width="2.2"/>
<line x1="381.75" y1="557.8" x2="381.75" y2="561.5" stroke="#000" stroke-width="1.7"/>
<text x="381.75" y="572.3" font-size="10" text-anchor="middle" font-weight="bold" font-style="normal" stroke="#000" stroke-width="0.3">Day 2</text>
<line x1="434.45000000000005" y1="510.6" x2="434.45000000000005" y2="493.8" stroke="#000" stroke-width="2.0"/>
<line x1="425.6" y1="493.8" x2="443.30000000000007" y2="493.8" stroke="#000" stroke-width="2.0"/>
<rect x="417.40000000000003" y="510.70000000000005" width="34.10000000000001" height="47.09999999999993" fill="#fff" stroke="#000" stroke-width="2.2"/>
<line x1="434.45000000000005" y1="557.8" x2="434.45000000000005" y2="561.5" stroke="#000" stroke-width="1.7"/>
<text x="434.45000000000005" y="572.3" font-size="10" text-anchor="middle" font-weight="bold" font-style="normal" stroke="#000" stroke-width="0.3">Pre</text>
<line x1="487.29999999999995" y1="548.2" x2="487.29999999999995" y2="543.4" stroke="#000" stroke-width="2.0"/>
<line x1="478.44999999999993" y1="543.4" x2="496.15" y2="543.4" stroke="#000" stroke-width="2.0"/>
<rect x="470.0" y="548.3000000000001" width="34.60000000000001" height="9.49999999999991" fill="#8c8c8c" stroke="#000" stroke-width="2.2"/>
<line x1="487.29999999999995" y1="557.8" x2="487.29999999999995" y2="561.5" stroke="#000" stroke-width="1.7"/>
<text x="487.29999999999995" y="572.3" font-size="10" text-anchor="middle" font-weight="bold" font-style="normal" stroke="#000" stroke-width="0.3">Day 56</text>
<line x1="312.8" y1="574.7" x2="396.5" y2="574.7" stroke="#000" stroke-width="1.5"/>
<line x1="423.8" y1="574.7" x2="506.4" y2="574.7" stroke="#000" stroke-width="1.5"/>
<text x="353.0" y="586.6" font-size="10" text-anchor="middle" font-weight="bold" font-style="normal" stroke="#000" stroke-width="0.3">LN</text>
<text x="460.8" y="586.6" font-size="10" text-anchor="middle" font-weight="bold" font-style="normal" stroke="#000" stroke-width="0.3">BM</text>
<path d="M329.3 439.2 V433.2 H383.4 V439.2" fill="none" stroke="#000" stroke-width="2.0"/>
<text x="337.8" y="425.3" font-size="11.5" font-weight="normal" stroke="#000" stroke-width="0.25"><tspan font-style="italic">P</tspan> = .02</text>
<path d="M433.8 491.2 V484.8 H487.9 V491.2" fill="none" stroke="#000" stroke-width="2.0"/>
<text x="442.2" y="477.9" font-size="11.5" font-weight="normal" stroke="#000" stroke-width="0.25"><tspan font-style="italic">P</tspan> = .02</text>
</svg>
</body></html>
